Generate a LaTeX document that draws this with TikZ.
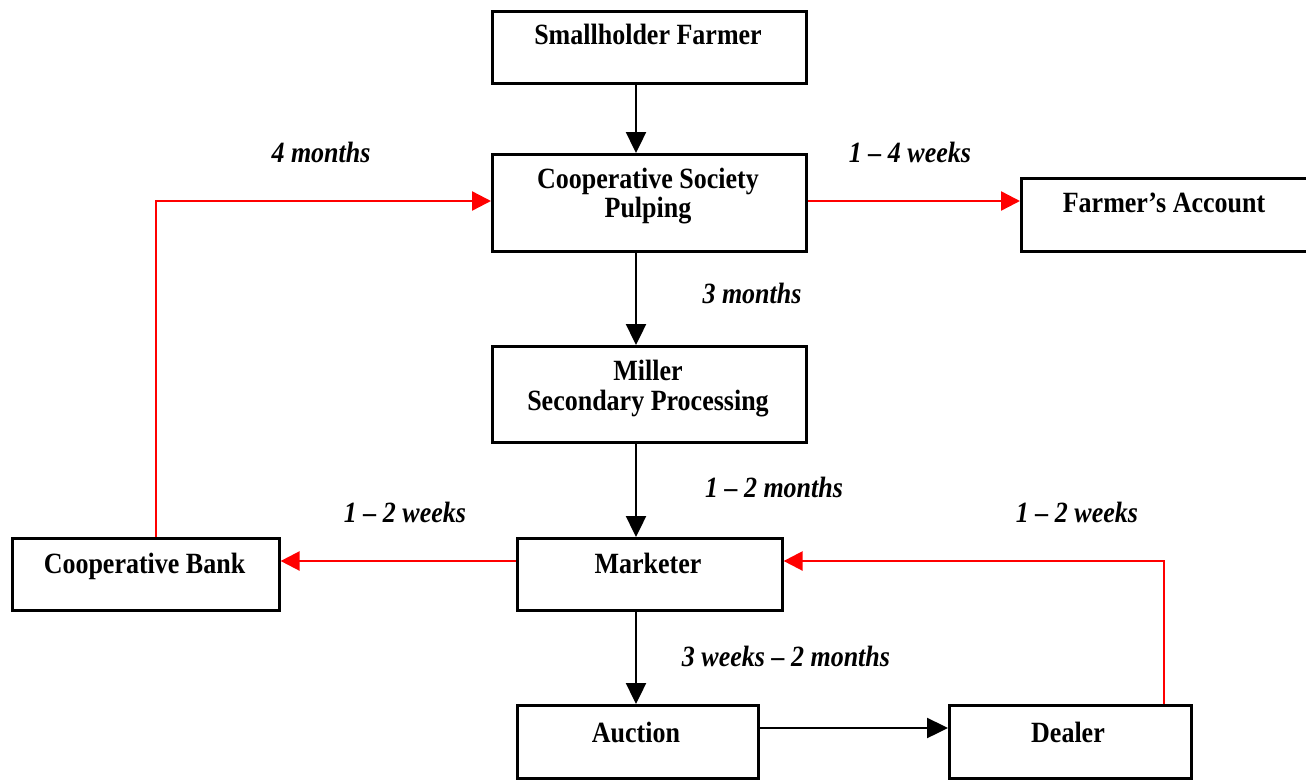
\documentclass[tikz,border=0pt]{standalone}
\usepackage{fontspec}
\usepackage{graphicx}
\setmainfont{Liberation Serif}
\usetikzlibrary{arrows.meta}
% slightly taller letterforms for all diagram text
\newcommand\tallt[1]{\scalebox{1}[1.13]{#1}}
\begin{document}
\begin{tikzpicture}[x=1pt,y=-1pt,
  box/.style={draw, line width=2.6pt, rectangle, inner sep=0pt, anchor=north west},
  boxtext/.style={anchor=base, inner sep=0pt, font=\fontsize{26}{29}\selectfont\bfseries},
  lbl/.style={anchor=base, inner sep=0pt, font=\fontsize{26}{29}\selectfont\bfseries\itshape},
  flow/.style={line width=2.4pt, -{Triangle[length=21pt,width=20pt]}},
  money/.style={draw=red, line width=2.4pt, -{Triangle[length=19pt,width=19pt]}, red}
]
\useasboundingbox (0,0) rectangle (1306,779);

% boxes
\node[box, minimum width=314pt, minimum height=72pt] (sf) at (491,10) {};
\node[box, minimum width=314pt, minimum height=97pt] (cs) at (491,153) {};
\node[box, minimum width=300pt, minimum height=73pt] (fa) at (1020,177) {};
\node[box, minimum width=314pt, minimum height=96pt] (ml) at (491,345) {};
\node[box, minimum width=265pt, minimum height=72pt] (mk) at (516,537) {};
\node[box, minimum width=267pt, minimum height=72pt] (cb) at (11,537) {};
\node[box, minimum width=241pt, minimum height=73pt] (au) at (516,704) {};
\node[box, minimum width=242pt, minimum height=73pt] (dl) at (948,704) {};

% box texts
\node[boxtext] (tsf) at (648,44) {\tallt{Smallholder Farmer}};
\node[boxtext] (tcs1) at (648,188) {\tallt{Cooperative Society}};
\node[boxtext] (tcs2) at (648,217) {\tallt{Pulping}};
\node[boxtext] (tfa) at (1164,212) {\tallt{Farmer’s Account}};
\node[boxtext] (tml1) at (648,380) {\tallt{Miller}};
\node[boxtext] (tml2) at (648,410) {\tallt{Secondary Processing}};
\node[boxtext] (tmk) at (648,573) {\tallt{Marketer}};
\node[boxtext] (tcb) at (144.5,573) {\tallt{Cooperative Bank}};
\node[boxtext] (tau) at (636,742) {\tallt{Auction}};
\node[boxtext] (tdl) at (1068,742) {\tallt{Dealer}};

% time labels
\node[lbl] (l1) at (321,162) {\tallt{4 months}};
\node[lbl] (l2) at (910,162) {\tallt{1 – 4 weeks}};
\node[lbl] (l3) at (752,303) {\tallt{3 months}};
\node[lbl] (l4) at (774,497) {\tallt{1 – 2 months}};
\node[lbl] (l5) at (405,522) {\tallt{1 – 2 weeks}};
\node[lbl] (l6) at (1077,522) {\tallt{1 – 2 weeks}};
\node[lbl] (l7) at (786,666) {\tallt{3 weeks – 2 months}};

% guide coordinates for connector lines
\coordinate (vx) at (636,0);
\coordinate (hy) at (0,561);
\coordinate (ay) at (0,728);
\coordinate (bx) at (156,0);
\coordinate (dx) at (1164,0);
\coordinate (cy) at (0,201);

% product flow
\draw[flow] (sf.south -| vx) -- (cs.north -| vx);
\draw[flow] (cs.south -| vx) -- (ml.north -| vx);
\draw[flow] (ml.south -| vx) -- (mk.north -| vx);
\draw[flow] (mk.south -| vx) -- (au.north -| vx);
\draw[flow] (au.east |- ay) -- (dl.west |- ay);

% payment flow
\draw[money] (cs.east |- cy) -- (fa.west |- cy);
\draw[money] (mk.west |- hy) -- (cb.east |- hy);
\draw[money] (cb.north -| bx) -- (bx |- cy) -- (cs.west |- cy);
\draw[money] (dl.north -| dx) -- (dx |- hy) -- (mk.east |- hy);
\end{tikzpicture}
\end{document}
